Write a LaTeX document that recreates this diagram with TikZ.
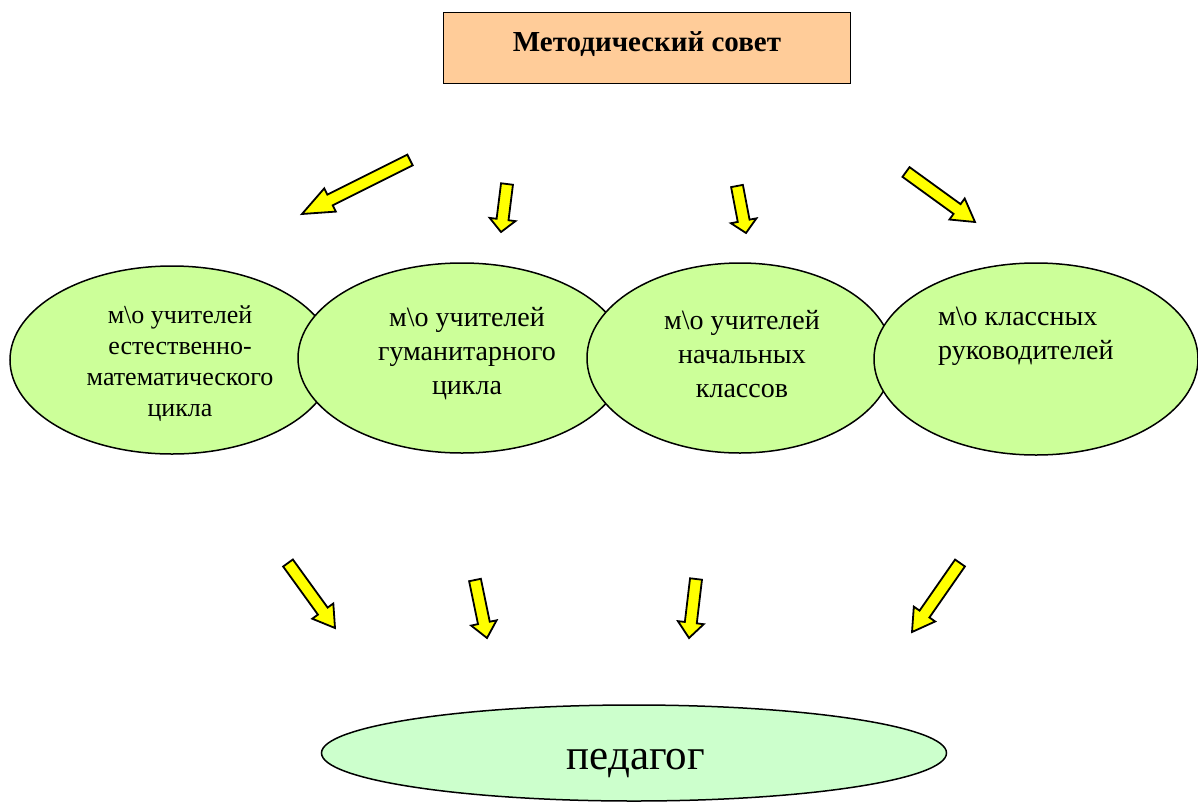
\documentclass[tikz,border=0pt]{standalone}
\usepackage{fontspec}
\setmainfont{Liberation Serif}
\usetikzlibrary{shapes.geometric,calc}
\definecolor{titlefill}{HTML}{FFCC99}
\definecolor{ellfill}{HTML}{CCFF99}
\definecolor{pedfill}{HTML}{CCFFCC}
\definecolor{arrfill}{HTML}{FFFF00}
\tikzset{
  titlebox/.style={draw=black, line width=1.8pt, fill=titlefill, minimum width=407pt, minimum height=71pt, inner sep=0pt},
  mo/.style={ellipse, draw=black, line width=1.5pt, fill=ellfill, inner sep=0pt},
  ped/.style={ellipse, draw=black, line width=1.5pt, fill=pedfill, inner sep=0pt},
  motext/.style={align=center, font=\fontsize{28}{34}\selectfont, inner sep=0pt},
  barrow/.style={draw=black, line width=1.8pt, fill=arrfill, line join=miter},
}
\newcommand\blockarr[3]{%
  \coordinate (#3b) at ($(#2)!0.26!(#1)$);
  \draw[barrow] ($(#1)!6pt!90:(#2)$) -- ($(#3b)!6pt!90:(#2)$) -- ($(#3b)!13pt!90:(#2)$) -- (#2)
    -- ($(#3b)!13pt!-90:(#2)$) -- ($(#3b)!6pt!-90:(#2)$) -- ($(#1)!6pt!-90:(#2)$) -- cycle;}
\begin{document}
\begin{tikzpicture}[x=1pt,y=-1pt]
\useasboundingbox (0,0) rectangle (1198,803);
% title
\node[titlebox] (ms) at (647,48) {};
\node[inner sep=0pt, font=\fontsize{29}{34}\selectfont\bfseries] (mst) at (647,44) {Методический совет};
% ellipses
\node[mo, minimum width=324pt, minimum height=188pt] (e1) at (172,360) {};
\node[mo, minimum width=328pt, minimum height=190pt] (e2) at (462,358) {};
\node[mo, minimum width=306pt, minimum height=190pt] (e3) at (740,358) {};
\node[mo, minimum width=324pt, minimum height=192pt] (e4) at (1036,359) {};
\node[motext, font=\fontsize{26}{31}\selectfont] (t1) at (180,364) {м\textbackslash о учителей\\естественно-\\математического\\цикла};
\node[motext] (t2) at (467,354) {м\textbackslash о учителей\\гуманитарного\\цикла};
\node[motext] (t3) at (742,354) {м\textbackslash о учителей\\начальных\\классов};
\node[motext, align=left, anchor=west] (t4) at (938,336) {м\textbackslash о классных\\руководителей};
% pedagog
\node[ped, minimum width=625pt, minimum height=96pt] (p) at (634,753) {};
\node[inner sep=0pt, font=\fontsize{43}{50}\selectfont] (pt) at (636,764) {педагог};
% arrows
\coordinate (a1t) at (410,160); \coordinate (a1h) at (302,214);
\coordinate (a2t) at (507,184); \coordinate (a2h) at (501,232);
\coordinate (a3t) at (737,186); \coordinate (a3h) at (746,233);
\coordinate (a4t) at (906,172); \coordinate (a4h) at (975,222);
\coordinate (a5t) at (288,563); \coordinate (a5h) at (335,628);
\coordinate (a6t) at (475,580); \coordinate (a6h) at (487,638);
\coordinate (a7t) at (696,579); \coordinate (a7h) at (689,638);
\coordinate (a8t) at (960,563); \coordinate (a8h) at (912,632);
\blockarr{a1t}{a1h}{a1}
\blockarr{a2t}{a2h}{a2}
\blockarr{a3t}{a3h}{a3}
\blockarr{a4t}{a4h}{a4}
\blockarr{a5t}{a5h}{a5}
\blockarr{a6t}{a6h}{a6}
\blockarr{a7t}{a7h}{a7}
\blockarr{a8t}{a8h}{a8}
\end{tikzpicture}
\end{document}
